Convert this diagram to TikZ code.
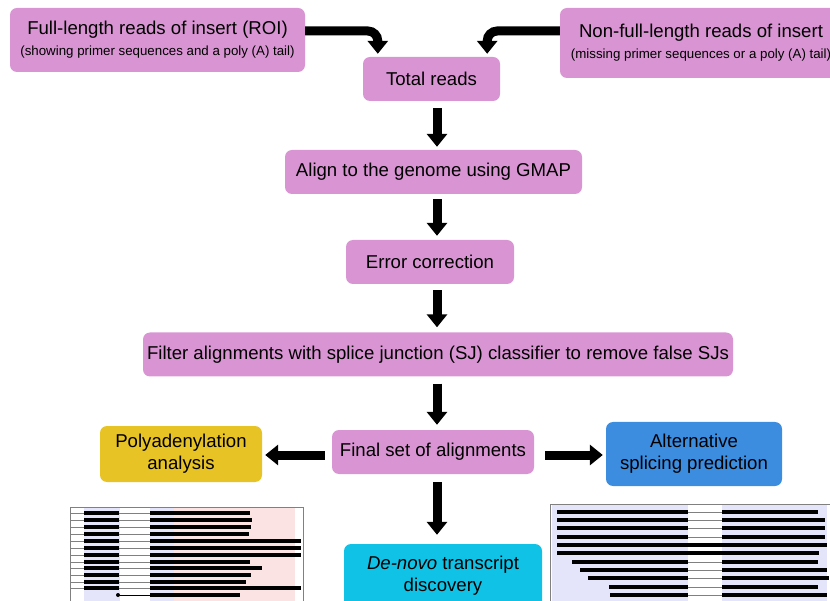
\documentclass[tikz,border=0pt]{standalone}
\usepackage{fontspec}
\setmainfont{Liberation Sans}
\usepackage{xcolor}
\usepackage{tikz}
\usetikzlibrary{arrows.meta,calc}
\definecolor{readpink}{HTML}{D995D3}
\definecolor{polyyellow}{HTML}{E7C326}
\definecolor{altblue}{HTML}{3C8DE0}
\definecolor{novocyan}{HTML}{10C3E6}
\definecolor{bandblue}{HTML}{E4E4FA}
\definecolor{bandpink}{HTML}{FCE3E3}
\tikzstyle{block} = [draw=none, rectangle, rounded corners=7pt, fill=readpink,
    minimum height=44pt, inner xsep=4pt, align=center,
    font=\fontsize{18.6}{22}\selectfont]
\tikzstyle{connector} = [line width=9pt, -{Triangle[width=20pt,length=13pt]}]
\tikzstyle{bar} = [line width=4.5pt]
\tikzstyle{intron} = [gray, line width=0.8pt]
\newcommand{\subnote}{\fontsize{13.3}{15}\selectfont}

\begin{document}
\begin{tikzpicture}[x=1pt, y=-1pt]
    \useasboundingbox (0,0) rectangle (830,601);
    \clip (0,0) rectangle (830,601);

    \node (full) [block, minimum width=295pt, minimum height=64pt] at (157.5,40)
        {Full-length reads of insert (ROI)\\[-1pt]{\subnote (showing primer sequences and a poly (A) tail)}};
    \node (nonfull) [block, minimum width=282pt, minimum height=70pt] at (701,43)
        {Non-full-length reads of insert\\[-1pt]{\subnote (missing primer sequences or a poly (A) tail)}};
    \node (total) [block, minimum width=137pt] at (431.5,79) {Total reads};
    \node (align) [block, minimum width=297pt] at (433.5,172) {Align to the genome using GMAP};
    \node (error) [block, minimum width=168pt] at (430,262) {Error correction};
    \node (filter) [block, minimum width=590pt] at (438,354.5)
        {Filter alignments with splice junction (SJ) classifier to remove false SJs};
    \node (final) [block, minimum width=202pt] at (433,452) {Final set of alignments};
    \node (poly) [block, fill=polyyellow, minimum width=162pt, minimum height=56pt] at (181,454)
        {Polyadenylation\\analysis};
    \node (alt) [block, fill=altblue, minimum width=176pt, minimum height=64pt] at (694,454)
        {Alternative\\splicing prediction};
    \node (denovo) [block, fill=novocyan, minimum width=198pt, minimum height=64pt] at (443,576)
        {\textit{De-novo} transcript\\discovery};
    \coordinate (spine) at (437,0);

    % merging the reads
    \draw [connector, rounded corners=10pt, shorten >=3pt] ([yshift=9pt]full.east) -| ([xshift=15pt]total.north west);
    \draw [connector, rounded corners=10pt, shorten >=3pt] ([yshift=12pt]nonfull.west) -| ([xshift=-13pt]total.north east);

    % main pipeline
    \draw [connector, shorten <=7pt, shorten >=3pt] (total.south -| spine) -- (align.north -| spine);
    \draw [connector, shorten <=5pt, shorten >=4pt] (align.south -| spine) -- (error.north -| spine);
    \draw [connector, shorten <=6pt, shorten >=5pt] (error.south -| spine) -- (filter.north -| spine);
    \draw [connector, shorten <=7pt, shorten >=5pt] (filter.south -| spine) -- (final.north -| spine);
    \draw [connector, shorten <=8pt, shorten >=9pt] (final.south -| spine) -- (denovo.north -| spine);
    \draw [connector, shorten <=7pt, shorten >=3pt] ([yshift=-3pt]final.west) -- ([yshift=-3pt]final.west -| poly.east);
    \draw [connector, shorten <=11pt, shorten >=3pt] ([yshift=-3pt]final.east) -- ([yshift=-3pt]final.east -| alt.west);

    % polyadenylation reads
    \fill [bandblue] (84,507) rectangle (120,601);
    \fill [bandblue] (150,507) rectangle (174,601);
    \fill [bandpink] (174,507) rectangle (295,601);
    \draw [gray, line width=0.8pt] (70,620) |- (303,507) -- (303,620);
    \foreach \y/\e in {513/250, 520/252, 527/251, 534/249, 541/301, 548/301, 555/301,
                       562/250, 568/262, 575/251, 582/246, 588/301} {
        \draw [intron] (70,\y) -- (150,\y);
        \draw [bar] (84,\y) -- (119,\y);
        \draw [bar] (150,\y) -- (\e,\y);
    }
    \fill (118,595) circle (2pt);
    \draw [line width=0.8pt] (118,595) -- (150,595);
    \draw [bar] (150,595) -- (240,595);

    % alternative splicing reads
    \fill [bandblue] (552,504) rectangle (827,601);
    \fill [white] (688,504) rectangle (722,601);
    \draw [gray, line width=0.8pt] (550,620) |- (835,504);
    \foreach \y/\s/\e in {512/557/818, 520/557/825, 528/557/825, 537/557/825,
                          562/572/818, 570/580/827, 578/588/829, 587/609/818, 595/610/827} {
        \draw [intron] (688,\y) -- (722,\y);
        \draw [bar] (\s,\y) -- (688,\y);
        \draw [bar] (722,\y) -- (\e,\y);
    }
    \draw [bar] (557,545) -- (827,545);
    \draw [bar] (557,553) -- (819,553);
\end{tikzpicture}
\end{document}
